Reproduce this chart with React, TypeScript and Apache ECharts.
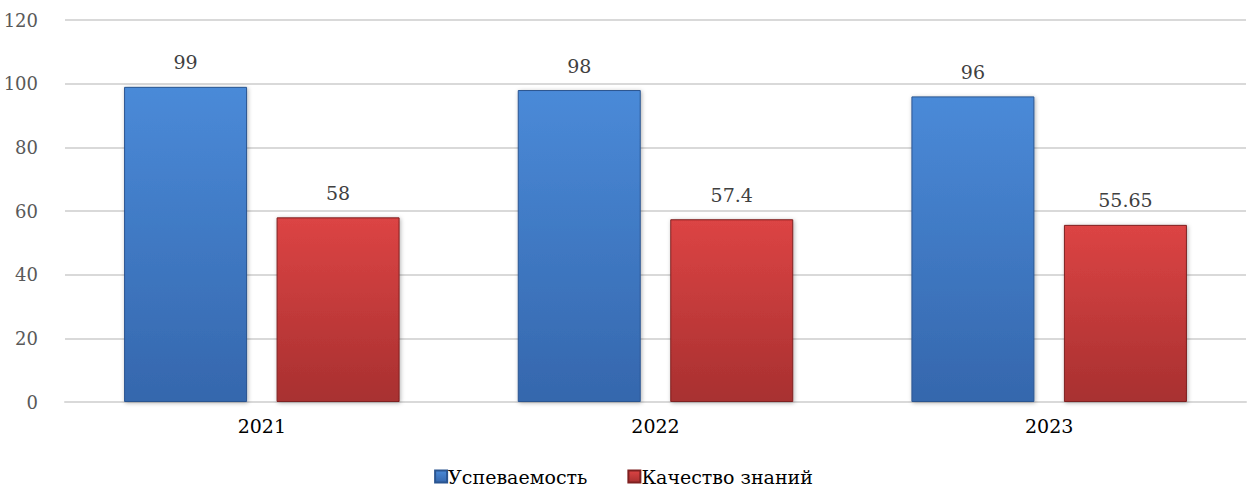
import React, { useEffect, useRef } from "react";
import * as echarts from "echarts";

const categories = ["2021", "2022", "2023"];
const seriesNames = ["Успеваемость", "Качество знаний"];
const uspevaemost = [99, 98, 96];
const kachestvo = [58, 57.4, 55.65];

export default function App() {
  const ref = useRef<HTMLDivElement>(null);
  useEffect(() => {
    document.body.style.margin = "0";
    const chart = echarts.init(ref.current!, undefined, { renderer: "svg" });
    const blue = new echarts.graphic.LinearGradient(0, 0, 0, 1, [
      { offset: 0, color: "#4a8ad8" },
      { offset: 1, color: "#3567ad" },
    ]);
    const red = new echarts.graphic.LinearGradient(0, 0, 0, 1, [
      { offset: 0, color: "#dc4444" },
      { offset: 1, color: "#a83030" },
    ]);
    const font = "DejaVu Serif";
    chart.setOption({
      animation: false,
      textStyle: { fontFamily: font },
      grid: { left: 65, right: 1, top: 20, bottom: 93, containLabel: false },
      legend: {
        bottom: 4,
        left: "center",
        itemWidth: 12,
        itemHeight: 12,
        itemGap: 40,
        icon: "rect",
        textStyle: { fontFamily: font, fontSize: 19, color: "#000", padding: [0, 0, 0, -4] },
        data: seriesNames,
      },
      xAxis: {
        type: "category",
        data: categories,
        axisLine: { show: true, lineStyle: { color: "#d9d9d9", width: 2 } },
        axisTick: { show: false },
        axisLabel: { fontFamily: font, fontSize: 19, color: "#000", margin: 14 },
      },
      yAxis: {
        type: "value",
        min: 0,
        max: 120,
        interval: 20,
        axisLine: { show: false },
        axisTick: { show: false },
        splitLine: { lineStyle: { color: "#d9d9d9", width: 2 } },
        axisLabel: { fontFamily: font, fontSize: 18, color: "#595959", margin: 27 },
      },
      series: [
        {
          name: seriesNames[0],
          type: "bar",
          data: uspevaemost,
          barWidth: 123,
          barGap: "24%",
          itemStyle: {
            color: blue,
            borderColor: "#2a5590",
            borderWidth: 1,
            shadowColor: "rgba(0,0,0,0.3)",
            shadowBlur: 4,
            shadowOffsetX: 1,
            shadowOffsetY: 1,
          },
          label: {
            show: true,
            position: "top",
            distance: 15,
            fontFamily: font,
            fontSize: 19,
            color: "#404040",
          },
        },
        {
          name: seriesNames[1],
          type: "bar",
          data: kachestvo,
          barWidth: 123,
          itemStyle: {
            color: red,
            borderColor: "#7e2020",
            borderWidth: 1,
            shadowColor: "rgba(0,0,0,0.3)",
            shadowBlur: 4,
            shadowOffsetX: 1,
            shadowOffsetY: 1,
          },
          label: {
            show: true,
            position: "top",
            distance: 15,
            fontFamily: font,
            fontSize: 19,
            color: "#404040",
          },
        },
      ],
    });
    return () => chart.dispose();
  }, []);
  return <div ref={ref} style={{ width: 1247, height: 495 }} />;
}
